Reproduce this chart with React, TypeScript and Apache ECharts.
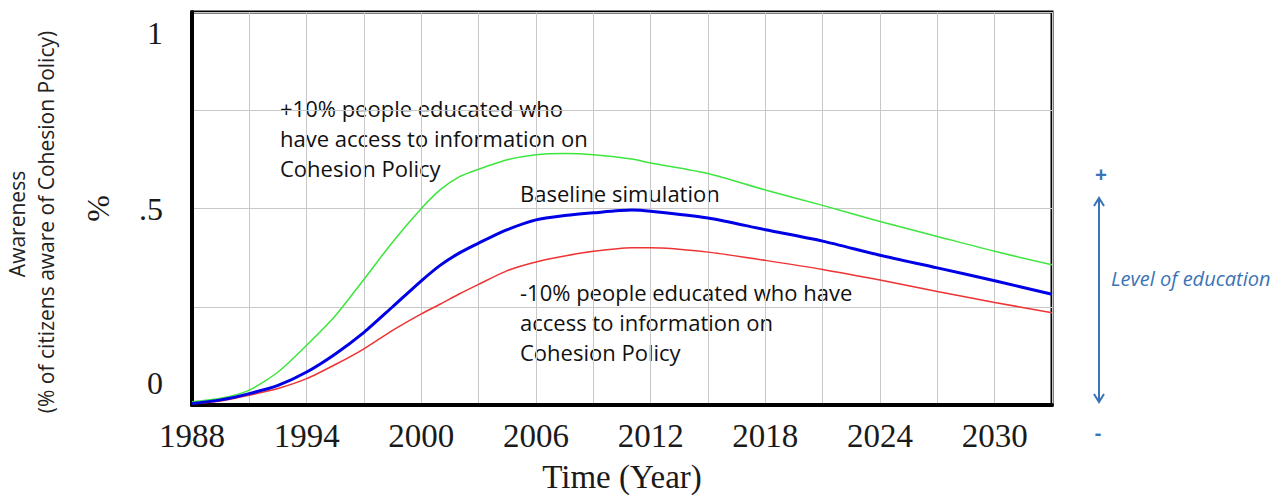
import React, { useEffect, useRef } from "react";
import * as echarts from "echarts";

const years = [1988, 1989.5, 1991, 1992.5, 1994, 1995.5, 1997, 1998.5, 2000, 2001, 2002, 2003, 2004.5, 2006, 2007.5, 2009, 2011, 2012, 2015, 2018, 2021, 2024, 2027, 2030, 2033];
const plus10 = [0.008, 0.017, 0.038, 0.084, 0.152, 0.227, 0.32, 0.415, 0.5, 0.548, 0.581, 0.6, 0.624, 0.637, 0.64, 0.637, 0.626, 0.616, 0.589, 0.547, 0.508, 0.467, 0.429, 0.391, 0.357];
const baseline = [0.004, 0.013, 0.029, 0.05, 0.084, 0.13, 0.185, 0.25, 0.316, 0.356, 0.387, 0.412, 0.446, 0.471, 0.482, 0.489, 0.496, 0.493, 0.476, 0.446, 0.417, 0.381, 0.349, 0.316, 0.282];
const minus10 = [0.003, 0.01, 0.025, 0.042, 0.067, 0.103, 0.143, 0.19, 0.232, 0.257, 0.283, 0.307, 0.342, 0.364, 0.379, 0.391, 0.4, 0.4, 0.389, 0.368, 0.345, 0.318, 0.289, 0.261, 0.235];
const xLabelYears = [1988, 1994, 2000, 2006, 2012, 2018, 2024, 2030];

const plusLines = ["+10% people educated who", "have access to information on", "Cohesion Policy"];
const minusLines = ["-10% people educated who have", "access to information on", "Cohesion Policy"];

const toPairs = (vals: number[]) => years.map((y, i) => [y, vals[i]]);

export default function App() {
  const ref = useRef<HTMLDivElement>(null);
  useEffect(() => {
    if (!ref.current) return;
    const chart = echarts.init(ref.current, null, { renderer: "svg" });
    const sans = "Open Sans";
    const serif = "Liberation Serif";
    const annColor = "#111";
    const blueNote = "#3a74b4";
    const graphics: any[] = [];
    plusLines.forEach((t, i) => {
      graphics.push({ type: "text", x: 280, y: 108 + i * 30, style: { text: t, font: `22px "${sans}"`, fill: annColor, verticalAlign: "middle" } });
    });
    graphics.push({ type: "text", x: 520, y: 193, style: { text: "Baseline simulation", font: `22px "${sans}"`, fill: annColor, verticalAlign: "middle" } });
    minusLines.forEach((t, i) => {
      graphics.push({ type: "text", x: 520, y: 292 + i * 30, style: { text: t, font: `22px "${sans}"`, fill: annColor, verticalAlign: "middle" } });
    });
    graphics.push({ type: "text", x: 17, y: 224, rotation: Math.PI / 2, style: { text: "Awareness", font: `21px "${sans}"`, fill: "#222", align: "center", verticalAlign: "middle" } });
    graphics.push({ type: "text", x: 46, y: 222, rotation: Math.PI / 2, style: { text: "(% of citizens aware of Cohesion Policy)", font: `21px "${sans}"`, fill: "#222", align: "center", verticalAlign: "middle" } });
    graphics.push({ type: "text", x: 1101, y: 174, style: { text: "+", font: `bold 21px "${sans}"`, fill: blueNote, align: "center", verticalAlign: "middle" } });
    graphics.push({ type: "text", x: 1098, y: 432, style: { text: "-", font: `bold 20px "${sans}"`, fill: blueNote, align: "center", verticalAlign: "middle" } });
    graphics.push({ type: "line", shape: { x1: 1099, y1: 198, x2: 1099, y2: 402 }, style: { stroke: blueNote, lineWidth: 2 } });
    graphics.push({ type: "polyline", shape: { points: [[1094, 206], [1099, 198], [1104, 206]] }, style: { stroke: blueNote, lineWidth: 2, fill: "none" } });
    graphics.push({ type: "polyline", shape: { points: [[1094, 394], [1099, 402], [1104, 394]] }, style: { stroke: blueNote, lineWidth: 2, fill: "none" } });
    graphics.push({ type: "text", x: 1111, y: 278, style: { text: "Level of education", font: `italic 20px "${sans}"`, fill: blueNote, verticalAlign: "middle" } });

    chart.setOption({
      animation: false,
      backgroundColor: "#fff",
      grid: { left: 192, top: 12, right: 232, bottom: 89, show: true, borderColor: "#000", borderWidth: 3, containLabel: false },
      xAxis: {
        type: "value",
        min: 1988,
        max: 2033,
        interval: 3,
        axisLine: { show: true, onZero: false, lineStyle: { color: "#000", width: 4 } },
        axisTick: { show: false },
        splitLine: { show: true, lineStyle: { color: "#c8c8c8", width: 1 } },
        axisLabel: {
          margin: 14,
          color: "#1a1a1a",
          fontFamily: serif,
          fontSize: 33,
          formatter: (v: number) => (xLabelYears.includes(v) ? String(v) : ""),
        },
        name: "Time (Year)",
        nameLocation: "middle",
        nameGap: 55,
        nameTextStyle: { fontFamily: serif, fontSize: 33, color: "#1a1a1a" },
      },
      yAxis: {
        type: "value",
        min: 0,
        max: 1,
        interval: 0.25,
        axisLine: { show: true, lineStyle: { color: "#000", width: 4 } },
        axisTick: { show: false },
        splitLine: { show: true, lineStyle: { color: "#c8c8c8", width: 1 } },
        axisLabel: {
          margin: 29,
          color: "#1a1a1a",
          fontFamily: serif,
          fontSize: 32,
          formatter: (v: number) => (v === 0 ? "{b|0}" : v === 0.5 ? ".5" : v === 1 ? "{t|1}" : ""),
          rich: {
            b: { fontFamily: serif, fontSize: 32, color: "#1a1a1a", padding: [0, 0, 44, 0] },
            t: { fontFamily: serif, fontSize: 32, color: "#1a1a1a", padding: [42, 0, 0, 0] },
          },
        },
        name: "%",
        nameLocation: "middle",
        nameGap: 78,
        nameTextStyle: { fontFamily: serif, fontSize: 32, color: "#1a1a1a" },
      },
      series: [
        { type: "line", name: "+10%", data: toPairs(plus10), showSymbol: false, smooth: 0.25, lineStyle: { color: "#3de63d", width: 1.5 }, z: 3 },
        { type: "line", name: "-10%", data: toPairs(minus10), showSymbol: false, smooth: 0.25, lineStyle: { color: "#ee3333", width: 1.5 }, z: 3 },
        { type: "line", name: "Baseline", data: toPairs(baseline), showSymbol: false, smooth: 0.25, lineStyle: { color: "#0000e6", width: 3 }, z: 4 },
      ],
      graphic: graphics,
    });
    return () => chart.dispose();
  }, []);
  return <div ref={ref} style={{ position: "fixed", left: 0, top: 0, width: 1284, height: 498 }} />;
}
